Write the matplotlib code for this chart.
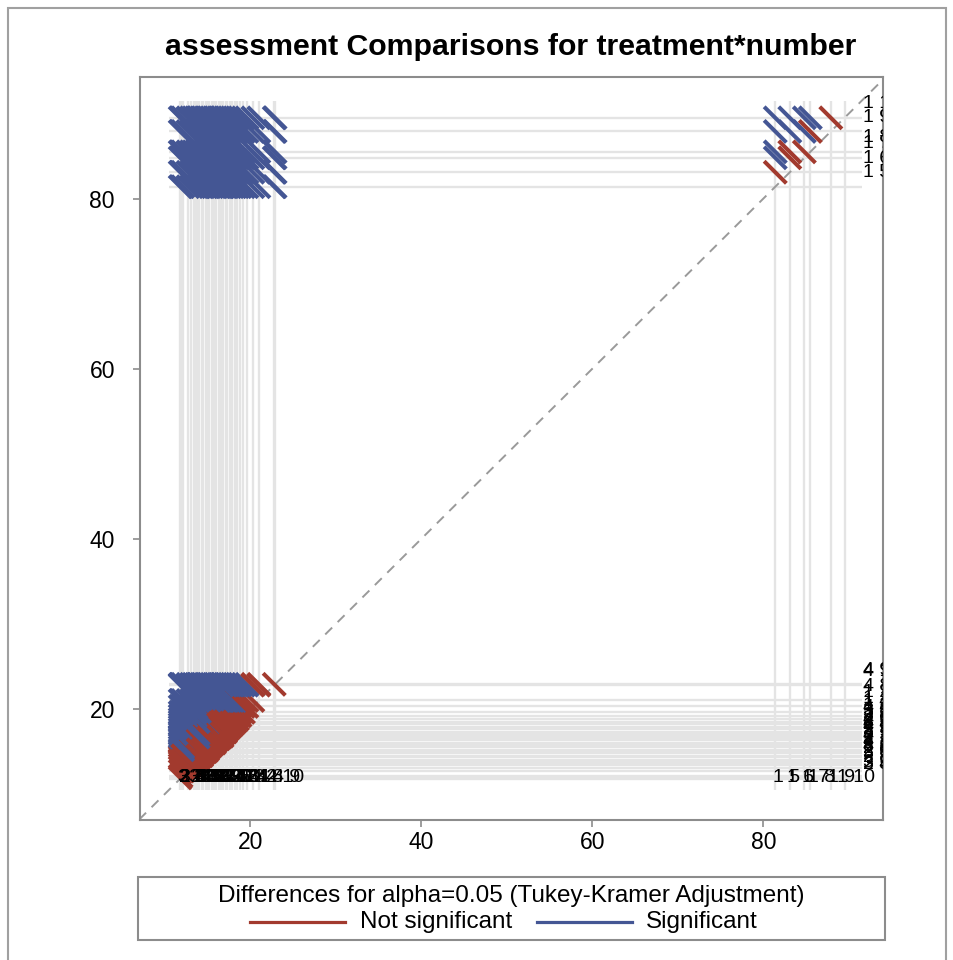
import matplotlib
matplotlib.use("Agg")
import matplotlib.pyplot as plt
from matplotlib.collections import LineCollection
from matplotlib.lines import Line2D
from matplotlib.patches import Rectangle

# LS-means of assessment for each treatment*number level
treatment = [1] * 10 + [2] * 10 + [3] * 10 + [4] * 10
number = list(range(1, 11)) * 4
lsmean = [19.6, 20.3, 18.8, 19.2, 81.4, 83.1, 84.8, 85.5, 87.9, 89.5,
          15.0, 14.3, 13.4, 16.5, 11.9, 17.3, 14.8, 13.7, 16.0, 12.7,
          15.8, 17.9, 14.0, 11.8, 16.8, 13.1, 15.5, 18.2, 12.1, 17.6,
          14.5, 16.3, 15.2, 18.5, 17.1, 13.9, 16.7, 21.0, 22.9, 22.8]
# Tukey-Kramer adjusted half-width of the CI for a pairwise difference
ci_halfwidth = 2.6
alpha = 0.05

x_ticks = [20, 40, 60, 80]
legend_labels = ["Not significant", "Significant"]

RED = "#A23A2E"
BLUE = "#445694"
REF = "#E4E4E4"
EDGE = "#8C8C8C"
FONT = "Liberation Sans"

plt.rcParams["font.family"] = [FONT, "DejaVu Sans"]

W, H = 954, 960
fig = plt.figure(figsize=(W / 100, H / 100), dpi=100)


def fx(px):
    return px / W


def fy(py):
    return 1 - py / H


ax = fig.add_axes([fx(140), fy(820), fx(883) - fx(140), fy(77) - fy(820)])
ax.set_xlim(7.1, 94.0)
ax.set_ylim(6.95, 94.3)

level_names = [f"{t} {n}" for t, n in zip(treatment, number)]
lo = min(lsmean) - 1.3
hi = max(lsmean) + 2.0

# reference lines at every LS-mean
for m in lsmean:
    ax.plot([m, m], [lo, hi], color=REF, lw=1.7, zorder=1, solid_capstyle="butt")
    ax.plot([lo, hi], [m, m], color=REF, lw=1.7, zorder=1, solid_capstyle="butt")

# diagonal of equality
d0, d1 = 7.0, 94.4
ax.plot([d0, d1], [d0, d1], color="#9A9A9A", lw=1.4, ls=(0, (5, 4)), zorder=2)

# one segment per pair of levels (in level order), centred at
# (smaller mean, larger mean); crossing the diagonal = not significant
h = ci_halfwidth / 2
segs, cols = [], []
n_lev = len(lsmean)
for i in range(n_lev):
    for j in range(i + 1, n_lev):
        a, b = sorted((lsmean[i], lsmean[j]))
        segs.append([(a - h, b + h), (a + h, b - h)])
        cols.append(BLUE if (b - a) > ci_halfwidth else RED)
ax.add_collection(LineCollection(segs, colors=cols, linewidths=2.9,
                                 zorder=3, capstyle="butt"))

# level labels at the ends of the reference lines
for name, m in zip(level_names, lsmean):
    ax.annotate(name, xy=(m, lo), xytext=(8, 9), textcoords="offset points",
                ha="center", va="center", fontsize=14, color="black",
                annotation_clip=False, clip_on=True, zorder=4)
    ax.annotate(name, xy=(hi, m), xytext=(1, 10), textcoords="offset points",
                ha="left", va="center", fontsize=14, color="black",
                annotation_clip=False, clip_on=True, zorder=4)

for s in ax.spines.values():
    s.set_color(EDGE)
    s.set_linewidth(1.5)
ax.set_xticks(x_ticks)
ax.set_yticks(x_ticks)
ax.tick_params(direction="out", length=5, width=1.2, color=EDGE, labelsize=16.5)
ax.tick_params(axis="x", pad=3)
ax.tick_params(axis="y", pad=13)

fig.text(fx(511), fy(47), "assessment Comparisons for treatment*number",
         ha="center", va="center", fontsize=21.8, fontweight="bold")

# legend panel
fig.patches.append(Rectangle((fx(138), fy(940)), fx(885) - fx(138), fy(877) - fy(940),
                             transform=fig.transFigure, fill=False,
                             edgecolor=EDGE, lw=1.5))
fig.text(fx(511), fy(896),
         f"Differences for alpha={alpha} (Tukey-Kramer Adjustment)",
         ha="center", va="center", fontsize=17.5)
fig.lines.append(Line2D([fx(250), fx(345)], [fy(922), fy(922)],
                        transform=fig.transFigure, color=RED, lw=2.3))
fig.text(fx(360), fy(922), legend_labels[0], ha="left", va="center", fontsize=17.5)
fig.lines.append(Line2D([fx(537), fx(632)], [fy(922), fy(922)],
                        transform=fig.transFigure, color=BLUE, lw=2.3))
fig.text(fx(646), fy(922), legend_labels[1], ha="left", va="center", fontsize=17.5)

# outer frame
fig.patches.append(Rectangle((fx(8), fy(968)), fx(946) - fx(8), fy(8) - fy(968),
                             transform=fig.transFigure, fill=False,
                             edgecolor="#A0A0A0", lw=1.5))

fig.savefig("out.png", dpi=100)
